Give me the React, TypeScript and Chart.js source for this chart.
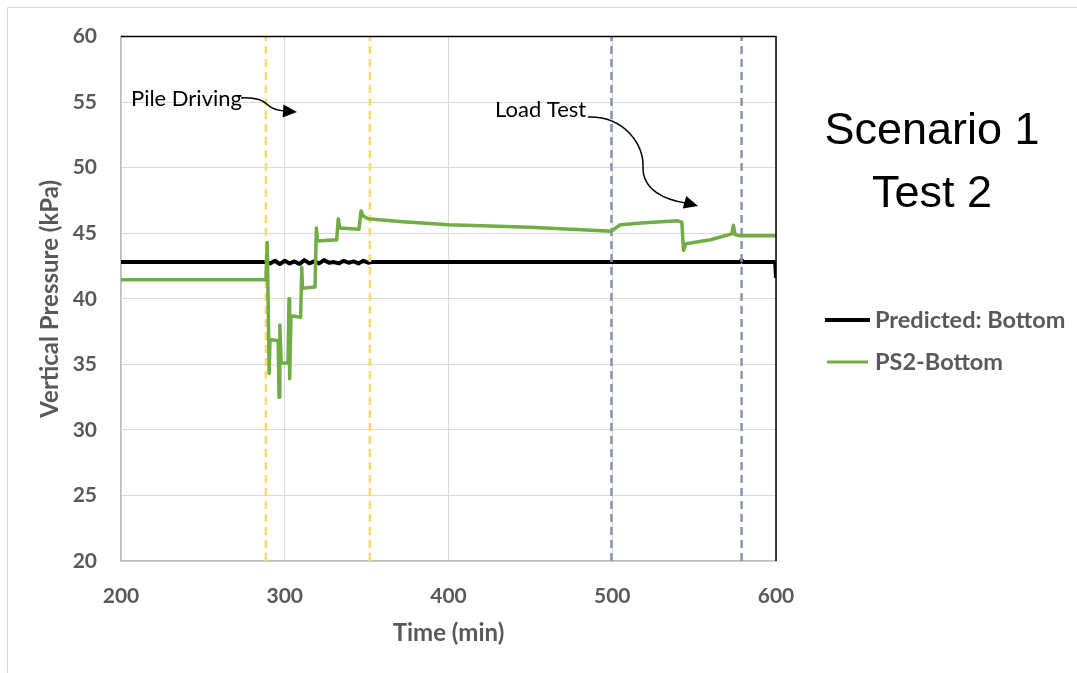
import React, { useEffect, useRef } from "react";
import { Chart, registerables } from "chart.js";

Chart.register(...registerables);

// ---- Data ----
const ps2Time = [
  200, 288.5, 289.3, 290.5, 291, 296, 296.5, 297, 297.8, 302, 302.6, 303, 303.8, 309.7,
  310.4, 310.8, 318.5, 319.3, 320, 331.7, 332.7, 333.7, 345.3, 346.6, 348, 351, 370, 400,
  450, 499.7, 502, 505, 520, 540, 542.5, 543.5, 545, 560, 573, 574, 575, 578, 600,
];
const ps2Values = [
  41.45, 41.45, 44.3, 34.3, 36.9, 36.8, 32.5, 38.0, 35.1, 35.1, 40.0, 33.9, 38.7, 38.6,
  42.4, 40.8, 40.9, 45.4, 44.4, 44.5, 46.1, 45.4, 45.3, 46.7, 46.3, 46.1, 45.9, 45.65,
  45.45, 45.15, 45.4, 45.65, 45.8, 45.95, 45.85, 43.7, 44.2, 44.5, 44.95, 45.6, 44.9, 44.8, 44.8,
];
const predTime = [
  200, 289, 291, 294, 297, 300, 303, 306, 309, 312, 315, 318, 321, 324, 327, 330, 333, 336,
  339, 342, 345, 348, 351, 353, 578, 579, 580, 599.5, 600,
];
const predValues = [
  42.8, 42.8, 42.7, 42.9, 42.65, 42.9, 42.7, 42.85, 42.65, 42.95, 42.7, 42.85, 42.7, 42.95,
  42.75, 42.8, 42.7, 42.9, 42.75, 42.85, 42.7, 42.9, 42.75, 42.8, 42.8, 42.95, 42.8, 42.8, 41.6,
];
const pileDrivingMarks = [288.5, 352];
const loadTestMarks = [499.5, 579];
const xTickValues = [200, 300, 400, 500, 600];
const yTickValues = [20, 25, 30, 35, 40, 45, 50, 55, 60];
const seriesNames = ["Predicted: Bottom", "PS2-Bottom"];

const GREEN = "#70AD47";
const YELLOW = "#FFD966";
const BLUE = "#8497B0";
const TEXT_GREY = "#595959";

function zip(xs: number[], ys: number[]) {
  return xs.map((x, i) => ({ x, y: ys[i] }));
}

function vline(x: number) {
  return [
    { x, y: yTickValues[0] },
    { x, y: yTickValues[yTickValues.length - 1] },
  ];
}

function arrowHead(ctx: CanvasRenderingContext2D, fx: number, fy: number, tx: number, ty: number) {
  const ang = Math.atan2(ty - fy, tx - fx);
  const len = 14;
  const hw = 6.5;
  ctx.beginPath();
  ctx.moveTo(tx, ty);
  ctx.lineTo(tx - len * Math.cos(ang) + hw * Math.sin(ang), ty - len * Math.sin(ang) - hw * Math.cos(ang));
  ctx.lineTo(tx - len * Math.cos(ang) - hw * Math.sin(ang), ty - len * Math.sin(ang) + hw * Math.cos(ang));
  ctx.closePath();
  ctx.fill();
}

const decorPlugin = {
  id: "decor",
  beforeDraw(chart: any) {
    const ctx = chart.ctx as CanvasRenderingContext2D;
    ctx.save();
    ctx.fillStyle = "#FFFFFF";
    ctx.fillRect(0, 0, chart.width, chart.height);
    ctx.restore();
  },
  afterDraw(chart: any) {
    const ctx = chart.ctx as CanvasRenderingContext2D;
    const { left, right, top, bottom } = chart.chartArea;
    ctx.save();
    // outer frame
    ctx.strokeStyle = "#D9D9D9";
    ctx.lineWidth = 1;
    ctx.beginPath();
    ctx.moveTo(7.5, chart.height);
    ctx.lineTo(7.5, 7.5);
    ctx.lineTo(chart.width, 7.5);
    ctx.stroke();

    // top & right plot border (black)
    ctx.strokeStyle = "#000000";
    ctx.lineWidth = 1.5;
    ctx.beginPath();
    ctx.moveTo(left, top);
    ctx.lineTo(right, top);
    ctx.lineTo(right, bottom);
    ctx.stroke();

    // annotations
    ctx.fillStyle = "#000000";
    ctx.font = '22px Lato, "Open Sans", sans-serif';
    ctx.textBaseline = "middle";
    ctx.textAlign = "left";
    ctx.fillText("Pile Driving", 131, 99);
    ctx.fillText("Load Test", 495, 110);

    ctx.strokeStyle = "#000000";
    ctx.lineWidth = 1.5;
    ctx.beginPath();
    ctx.moveTo(241, 98);
    ctx.bezierCurveTo(258, 97, 264, 101, 268, 105);
    ctx.bezierCurveTo(272, 109, 278, 111, 288, 111);
    ctx.stroke();
    arrowHead(ctx, 282, 111, 297, 112);

    ctx.beginPath();
    ctx.moveTo(588, 117);
    ctx.bezierCurveTo(625, 116, 644, 145, 643, 168);
    ctx.bezierCurveTo(643, 190, 665, 200, 686, 203);
    ctx.stroke();
    arrowHead(ctx, 680, 201, 698, 206);

    // big title
    ctx.font = '45px "Liberation Sans", Arial, sans-serif';
    ctx.textAlign = "center";
    ctx.fillText("Scenario 1", 932, 132);
    ctx.fillText("Test 2", 932, 195);

    // legend
    ctx.lineCap = "butt";
    ctx.strokeStyle = "#000000";
    ctx.lineWidth = 4;
    ctx.beginPath();
    ctx.moveTo(825, 320);
    ctx.lineTo(870, 320);
    ctx.stroke();
    ctx.strokeStyle = GREEN;
    ctx.lineWidth = 3;
    ctx.beginPath();
    ctx.moveTo(827, 362);
    ctx.lineTo(868, 362);
    ctx.stroke();
    ctx.fillStyle = TEXT_GREY;
    ctx.font = 'bold 23.5px Lato, "Open Sans", sans-serif';
    ctx.textAlign = "left";
    ctx.fillText(seriesNames[0], 875, 320);
    ctx.fillText(seriesNames[1], 875, 362);
    ctx.restore();
  },
};

export default function App() {
  const canvasRef = useRef<HTMLCanvasElement | null>(null);

  useEffect(() => {
    if (!canvasRef.current) return;
    const tickFont = { family: 'Lato, "Open Sans", sans-serif', size: 21, weight: "bold" as const };
    const titleFont = { family: 'Lato, "Open Sans", sans-serif', size: 24, weight: "bold" as const };
    const datasets: any[] = [
      {
        label: seriesNames[0],
        data: zip(predTime, predValues),
        borderColor: "#000000",
        borderWidth: 4,
        borderJoinStyle: "round",
        pointRadius: 0,
        order: 3,
      },
      ...pileDrivingMarks.map((m) => ({
        label: "pd",
        data: vline(m),
        borderColor: YELLOW,
        borderWidth: 2.5,
        borderDash: [8, 5],
        pointRadius: 0,
        order: 2,
      })),
      ...loadTestMarks.map((m) => ({
        label: "lt",
        data: vline(m),
        borderColor: BLUE,
        borderWidth: 2.5,
        borderDash: [8, 5],
        pointRadius: 0,
        order: 2,
      })),
      {
        label: seriesNames[1],
        data: zip(ps2Time, ps2Values),
        borderColor: GREEN,
        borderWidth: 3.5,
        borderJoinStyle: "round",
        pointRadius: 0,
        order: 1,
      },
    ];

    const chart = new Chart(canvasRef.current, {
      type: "line",
      data: { datasets },
      options: {
        animation: false,
        responsive: false,
        devicePixelRatio: 1,
        layout: { padding: { left: 0, right: 301, top: 34, bottom: 0 } },
        plugins: { legend: { display: false }, tooltip: { enabled: false } },
        elements: { line: { tension: 0 }, point: { radius: 0 } },
        scales: {
          x: {
            type: "linear",
            min: 200,
            max: 600,
            afterFit: (s: any) => {
              s.height = 112;
            },
            afterBuildTicks: (s: any) => {
              s.ticks = xTickValues.map((v) => ({ value: v }));
            },
            grid: { color: "#D9D9D9", lineWidth: 1, drawTicks: false },
            border: { color: "#BFBFBF", width: 1.5 },
            ticks: { padding: 23, font: tickFont, color: TEXT_GREY, maxRotation: 0 },
            title: {
              display: true,
              text: "Time (min)",
              color: TEXT_GREY,
              font: titleFont,
              padding: { top: 0, bottom: 25.5 },
            },
          },
          y: {
            type: "linear",
            min: 20,
            max: 60,
            afterFit: (s: any) => {
              s.width = 121;
            },
            afterBuildTicks: (s: any) => {
              s.ticks = yTickValues.map((v) => ({ value: v }));
            },
            grid: { color: "#D9D9D9", lineWidth: 1, drawTicks: false },
            border: { color: "#BFBFBF", width: 1.5 },
            ticks: { padding: 24, font: tickFont, color: TEXT_GREY },
            title: {
              display: true,
              text: "Vertical Pressure (kPa)",
              color: TEXT_GREY,
              font: titleFont,
              padding: { top: 35.5, bottom: 0 },
            },
          },
        },
      },
      plugins: [decorPlugin],
    } as any);

    return () => chart.destroy();
  }, []);

  return (
    <div style={{ position: "absolute", left: 0, top: 0, width: 1077, height: 673, background: "#fff" }}>
      <canvas ref={canvasRef} width={1077} height={673} style={{ width: 1077, height: 673, display: "block" }} />
    </div>
  );
}
